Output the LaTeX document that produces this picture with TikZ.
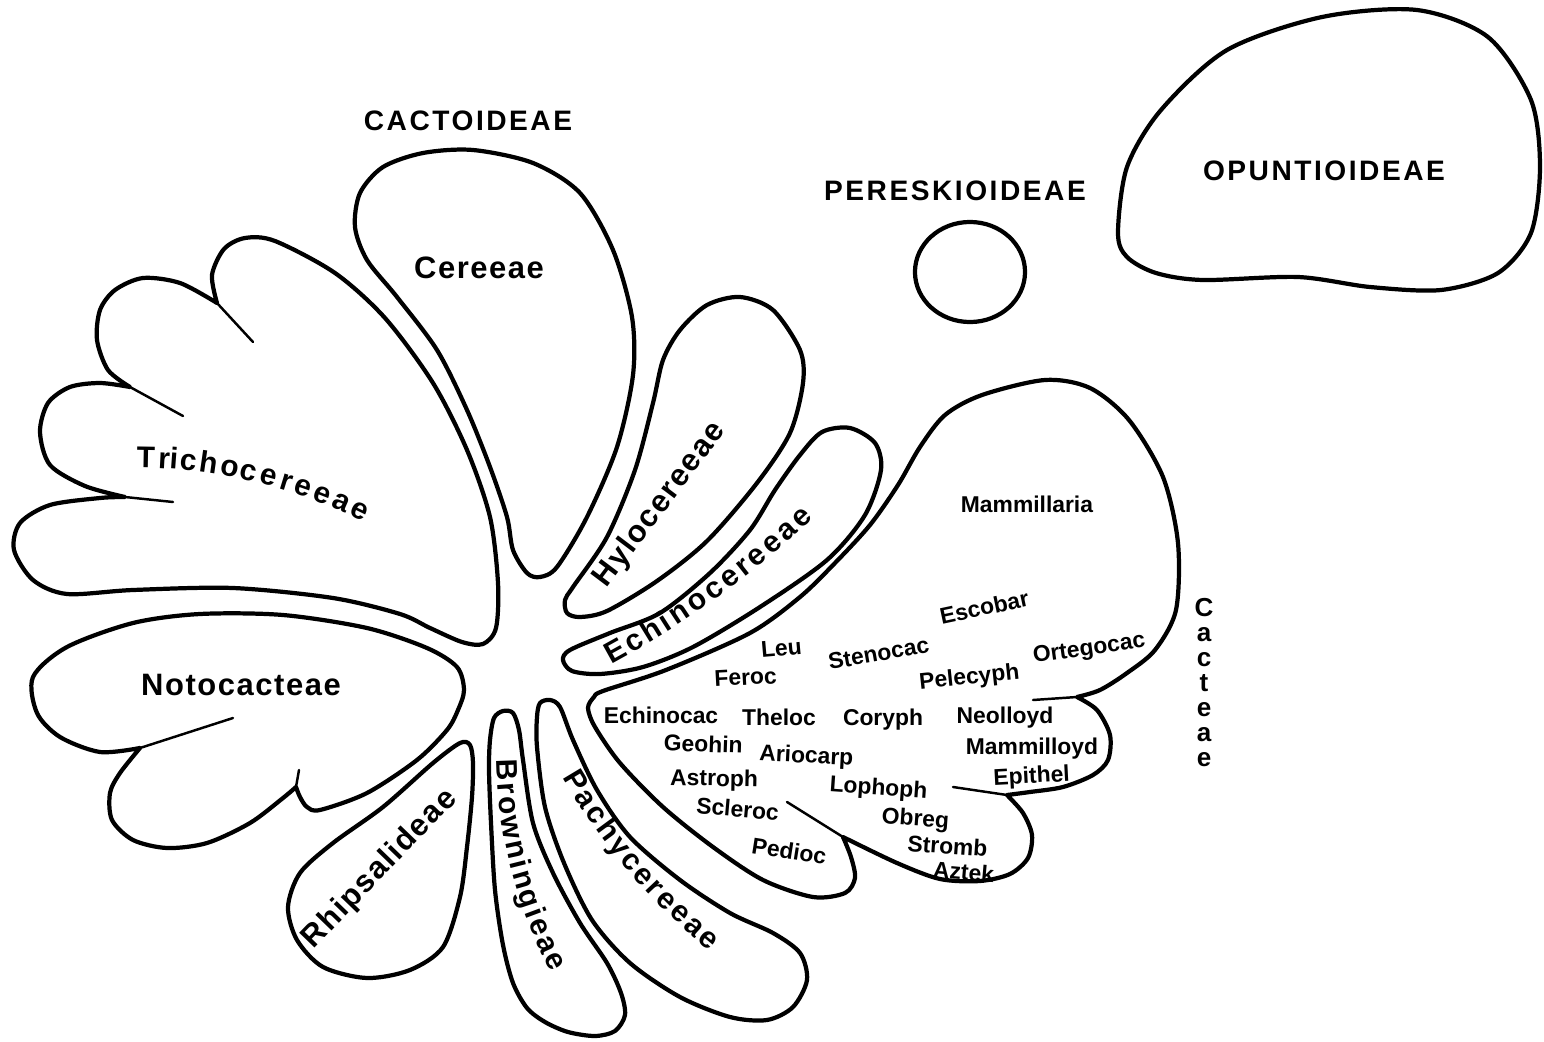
\documentclass[tikz,border=0pt]{standalone}
\usepackage{fontspec}
\setmainfont{Liberation Sans}
\newfontfamily\capsfont[LetterSpace=9]{Liberation Sans}
\newfontfamily\tribefont[LetterSpace=5]{Liberation Sans}
\usepackage{tikz}
\usetikzlibrary{positioning}

\begin{document}
\begin{tikzpicture}[x=0.01cm,y=-0.01cm,
  blob/.style={line width=1.2pt,line join=round},
  spike/.style={line width=0.7pt,line cap=round},
  subfam/.style={font=\capsfont\bfseries\fontsize{8}{9}\selectfont,anchor=base,inner sep=0pt},
  tribe/.style={font=\tribefont\bfseries\fontsize{8.8}{10}\selectfont,inner sep=0pt},
  letter/.style={font=\bfseries\fontsize{8.5}{10}\selectfont,anchor=base,inner sep=0pt},
  genus/.style={font=\bfseries\fontsize{6.5}{7}\selectfont,anchor=base,inner sep=0pt}]
  \useasboundingbox (0,0) rectangle (1544,1042);

  % subfamilies
  \node[subfam] (cactoideae) at (468,130) {CACTOIDEAE};
  \node[subfam] (pereskioideae) at (955,200) {PERESKIOIDEAE};
  \node[subfam] (opuntioideae) at (1324,180) {OPUNTIOIDEAE};
  \draw[blob] (970,272) ellipse [x radius=0.55cm,y radius=0.5cm];
  \draw[blob] plot[smooth cycle] coordinates {(1118,233) (1127,167) (1161,110) (1227,50) (1322,17) (1417,10) (1488,37) (1531,100) (1540,167) (1531,233) (1498,273) (1441,290) (1370,287) (1298,277) (1203,280) (1156,273) (1127,257)};

  % Cereeae
  \draw[blob] plot[smooth cycle] coordinates {(360,193) (355,227) (367,260) (397,297) (437,350) (467,410) (490,467) (507,517) (513,550) (527,573) (540,577) (557,567) (587,517) (617,447) (633,375) (632,317) (613,250) (580,193) (533,163) (473,150) (423,153) (383,167)};
  \node[tribe,anchor=base] (cereeae) at (479,278) {Cereeae};

  % Trichocereeae
  \draw[blob] plot[smooth] coordinates {(217,303) (212,275) (224,249) (245,238) (275,241) (335,273) (385,318) (433,383) (467,450) (490,517) (498,583) (496,628) (483,644) (462,642) (430,628) (400,614) (333,598) (233,588) (133,590) (67,594) (33,580) (14,550) (20,523) (50,505) (100,498) (125,497)}
    -- plot[smooth] coordinates {(125,497) (85,486) (50,465) (40,432) (48,403) (70,387) (100,383) (130,387)}
    -- plot[smooth] coordinates {(130,387) (108,370) (97,340) (100,310) (115,290) (143,278) (180,283) (217,303)} -- cycle;
  \draw[spike] (217,303) -- (253,342);
  \draw[spike] (130,387) -- (183,416);
  \draw[spike] (125,497) -- (173,502);
  \foreach \ch/\f [count=\i] in {T/0,r/0.082,i/0.127,c/0.192,h/0.287,o/0.384,c/0.467,e/0.563,r/0.646,e/0.725,e/0.815,a/0.907,e/1}
    \node[letter,rotate={-1-25*\f}] (tri\i) at ({146+220*\f*cos(-1-12.5*\f)+8*sin(-1-25*\f)},{460-220*\f*sin(-1-12.5*\f)+8*cos(-1-25*\f)}) {\ch};

  % Notocacteae
  \draw[blob] plot[smooth] coordinates {(140,748) (100,752) (60,737) (37,713) (33,677) (67,647) (133,623) (200,614) (283,615) (367,628) (427,648) (457,667) (464,690) (458,710) (447,730) (417,760) (367,793) (320,810) (307,807) (300,797) (296,787)}
    -- plot[smooth] coordinates {(296,787) (283,798) (250,823) (207,843) (167,848) (133,840) (112,820) (110,793) (120,773) (140,748)} -- cycle;
  \draw[spike] (140,748) -- (233,718);
  \draw[spike] (296,787) -- (299,770);
  \node[tribe,anchor=base] (notocacteae) at (241,695) {Notocacteae};

  % Rhipsalideae, Browningieae, Pachycereeae
  \draw[blob] plot[smooth cycle] coordinates {(473,763) (470,745) (460,743) (433,763) (383,807) (333,843) (300,873) (288,907) (297,940) (323,967) (367,978) (410,970) (443,947) (460,897) (467,847) (472,797)};
  \node[tribe,rotate=46] (rhipsalideae) at (380,869) {Rhipsalideae};
  \draw[blob] plot[smooth cycle] coordinates {(490,740) (494,718) (503,711) (513,713) (519,730) (523,760) (533,823) (553,873) (580,923) (607,963) (621,993) (625,1015) (615,1031) (595,1036) (568,1032) (545,1022) (527,1008) (513,983) (503,945) (495,890) (491,823) (489,770)};
  \foreach \ch/\f [count=\i] in {B/0,r/0.093,o/0.179,w/0.292,n/0.405,i/0.483,n/0.561,g/0.662,i/0.74,e/0.813,a/0.907,e/1}
    \node[letter,rotate={-88+25*\f}] (bro\i) at ({505+198*\f*cos(-88+12.5*\f)+8*sin(-88+25*\f)},{770-198*\f*sin(-88+12.5*\f)+8*cos(-88+25*\f)}) {\ch};
  \draw[blob] plot[smooth cycle] coordinates {(540,703) (550,700) (560,707) (573,740) (597,790) (630,837) (680,880) (730,913) (773,933) (800,953) (807,980) (793,1007) (767,1020) (730,1017) (680,997) (630,963) (592,920) (564,863) (545,807) (537,747) (537,717)};
  \foreach \ch/\f [count=\i] in {P/0,a/0.099,c/0.191,h/0.287,y/0.382,c/0.473,e/0.565,r/0.645,e/0.725,e/0.817,a/0.909,e/1}
    \node[letter,rotate={-59+19*\f}] (pac\i) at ({574+207*\f*cos(-59+9.5*\f)+8*sin(-59+19*\f)},{782-207*\f*sin(-59+9.5*\f)+8*cos(-59+19*\f)}) {\ch};

  % Hylocereeae, Echinocereeae
  \draw[blob] plot[smooth cycle] coordinates {(567,613) (565,600) (573,587) (607,537) (635,470) (653,403) (663,360) (680,330) (707,305) (740,297) (773,310) (800,350) (803,383) (790,433) (757,483) (707,541) (657,581) (607,611) (580,617)};
  \node[tribe,rotate=53] (hylocereeae) at (660,505) {Hylocereeae};
  \draw[blob] plot[smooth cycle] coordinates {(563,660) (572,671) (600,674) (643,667) (693,647) (760,607) (827,560) (865,515) (881,470) (875,443) (850,428) (822,432) (800,455) (775,490) (750,530) (710,573) (660,613) (610,633) (570,650)};
  \foreach \ch/\f [count=\i] in {E/0,c/0.093,h/0.183,i/0.254,n/0.325,o/0.418,c/0.507,e/0.593,r/0.668,e/0.742,e/0.828,a/0.914,e/1}
    \node[letter,rotate={29+14*\f}] (ech\i) at ({616+230*\f*cos(29+7*\f)+8*sin(29+14*\f)},{653-230*\f*sin(29+7*\f)+8*cos(29+14*\f)}) {\ch};

  % Cacteae
  \draw[blob] plot[smooth] coordinates {(843,837) (851,857) (855,878) (845,893) (813,897) (763,880) (713,847) (663,807) (620,763) (595,727) (588,708) (594,697) (603,691) (666,670) (750,633) (800,597) (835,563) (870,525) (898,485) (920,447) (945,415) (982,395) (1045,380) (1090,388) (1129,420) (1163,477) (1178,543) (1176,610) (1155,650) (1127,673) (1100,690) (1077,697)}
    -- plot[smooth] coordinates {(1077,697) (1097,710) (1110,735) (1108,760) (1093,775) (1063,787) (1030,792) (1007,795)}
    -- plot[smooth] coordinates {(1007,795) (1023,813) (1032,835) (1028,858) (1010,874) (980,881) (940,879) (897,863) (843,837)} -- cycle;
  \draw[spike] (1077,697) -- (1033,700);
  \draw[spike] (1007,795) -- (953,787);
  \draw[spike] (843,837) -- (787,802);
  \node[font=\bfseries\fontsize{7.4}{7.1}\selectfont,align=center,anchor=north,inner sep=0pt] (cacteae) at (1204,598) {C\\a\\c\\t\\e\\a\\e};

  % genera
  \node[genus] (mammillaria) at (1027,512) {Mammillaria};
  \node[genus,rotate=12] (escobar) at (986,615) {Escobar};
  \node[genus,rotate=5] (leu) at (782,656) {Leu};
  \node[genus,rotate=10] (stenocac) at (880,661) {Stenocac};
  \node[genus,rotate=8] (ortegocac) at (1090,655) {Ortegocac};
  \node[genus,rotate=3] (feroc) at (746,685) {Feroc};
  \node[genus,rotate=6] (pelecyph) at (970,684) {Pelecyph};
  \node[genus] (echinocac) at (661,723) {Echinocac};
  \node[genus] (theloc) at (779,725) {Theloc};
  \node[genus] (coryph) at (883,725) {Coryph};
  \node[genus] (neolloyd) at (1005,723) {Neolloyd};
  \node[genus,rotate=-2] (geohin) at (703,752) {Geohin};
  \node[genus,rotate=-3] (ariocarp) at (806,763) {Ariocarp};
  \node[genus] (mammilloyd) at (1032,754) {Mammilloyd};
  \node[genus,rotate=-1] (astroph) at (714,786) {Astroph};
  \node[genus,rotate=-4] (lophoph) at (878,795) {Lophoph};
  \node[genus,rotate=3] (epithel) at (1032,783) {Epithel};
  \node[genus,rotate=-5] (scleroc) at (737,817) {Scleroc};
  \node[genus,rotate=-4] (obreg) at (915,826) {Obreg};
  \node[genus,rotate=-9] (pedioc) at (788,859) {Pedioc};
  \node[genus,rotate=-4] (stromb) at (947,854) {Stromb};
  \node[genus,rotate=-5] (aztek) at (963,880) {Aztek};
\end{tikzpicture}
\end{document}
